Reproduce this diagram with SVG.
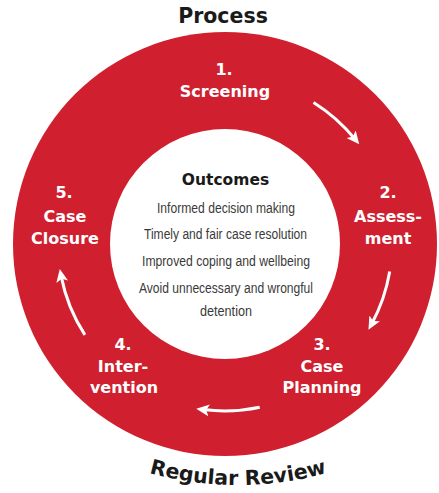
<svg xmlns="http://www.w3.org/2000/svg" width="439" height="493" viewBox="0 0 439 493">
  <style>
    .title { font-family: "DejaVu Sans", "Liberation Sans", sans-serif; font-weight: bold; font-size: 20.5px; fill: #1a1a1a; }
    .step { font-family: "DejaVu Sans", "Liberation Sans", sans-serif; font-weight: bold; font-size: 16px; fill: #ffffff; text-anchor: middle; }
    .head { font-family: "DejaVu Sans", "Liberation Sans", sans-serif; font-weight: bold; font-size: 15.5px; fill: #1a1a1a; text-anchor: middle; }
    .item { font-family: "Liberation Sans", sans-serif; font-size: 15.5px; fill: #3a3a3a; text-anchor: middle; }
    .arrow { fill: none; stroke: #ffffff; stroke-width: 3; }
  </style>
  <defs>
    <marker id="ah" markerUnits="userSpaceOnUse" markerWidth="14" markerHeight="12" refX="6" refY="6" orient="auto">
      <path d="M0,0 L13,6 L0,12 L3,6 Z" fill="#ffffff"/>
    </marker>
    <path id="reviewArc" d="M -94 153 A 332 332 0 0 0 570 153"/>
  </defs>

  <g id="ring">
    <circle cx="225" cy="244" r="212" fill="#d0202f"/>
    <circle cx="225" cy="244" r="115" fill="#ffffff"/>
  </g>

  <g id="title-process">
    <text class="title" x="223" y="23" text-anchor="middle">Process</text>
  </g>
  <g id="title-review">
    <text class="title"><textPath href="#reviewArc" startOffset="50%" text-anchor="middle">Regular Review</textPath></text>
  </g>

  <g id="step1">
    <text class="step" x="224" y="75">1.</text>
    <text class="step" x="225" y="97">Screening</text>
  </g>
  <g id="step2">
    <text class="step" x="388" y="198">2.</text>
    <text class="step" x="388" y="222">Assess-</text>
    <text class="step" x="388" y="244">ment</text>
  </g>
  <g id="step3">
    <text class="step" x="322" y="350">3.</text>
    <text class="step" x="322" y="372">Case</text>
    <text class="step" x="322" y="393">Planning</text>
  </g>
  <g id="step4">
    <text class="step" x="123" y="350">4.</text>
    <text class="step" x="123" y="372">Inter-</text>
    <text class="step" x="124" y="393">vention</text>
  </g>
  <g id="step5">
    <text class="step" x="64" y="198">5.</text>
    <text class="step" x="65" y="222">Case</text>
    <text class="step" x="65" y="244">Closure</text>
  </g>

  <g id="outcomes">
    <text class="head" x="225.5" y="185">Outcomes</text>
    <text class="item" x="226" y="212.5" textLength="138" lengthAdjust="spacingAndGlyphs">Informed decision making</text>
    <text class="item" x="225.5" y="239" textLength="163" lengthAdjust="spacingAndGlyphs">Timely and fair case resolution</text>
    <text class="item" x="226" y="266" textLength="168" lengthAdjust="spacingAndGlyphs">Improved coping and wellbeing</text>
    <text class="item" x="226" y="293" textLength="174" lengthAdjust="spacingAndGlyphs">Avoid unnecessary and wrongful</text>
    <text class="item" x="226" y="315.5" textLength="52" lengthAdjust="spacingAndGlyphs">detention</text>
  </g>

  <g id="connectors">
    <path class="arrow" marker-end="url(#ah)" d="M 313.5 102.4 A 167 167 0 0 1 354.8 138.9"/>
    <path class="arrow" marker-end="url(#ah)" d="M 389.7 271.6 A 167 167 0 0 1 371.8 323.7"/>
    <path class="arrow" marker-end="url(#ah)" d="M 259.7 407.3 A 167 167 0 0 1 203.2 409.6"/>
    <path class="arrow" marker-end="url(#ah)" d="M 84.9 334.9 A 167 167 0 0 1 61.1 275.9"/>
  </g>
</svg>
